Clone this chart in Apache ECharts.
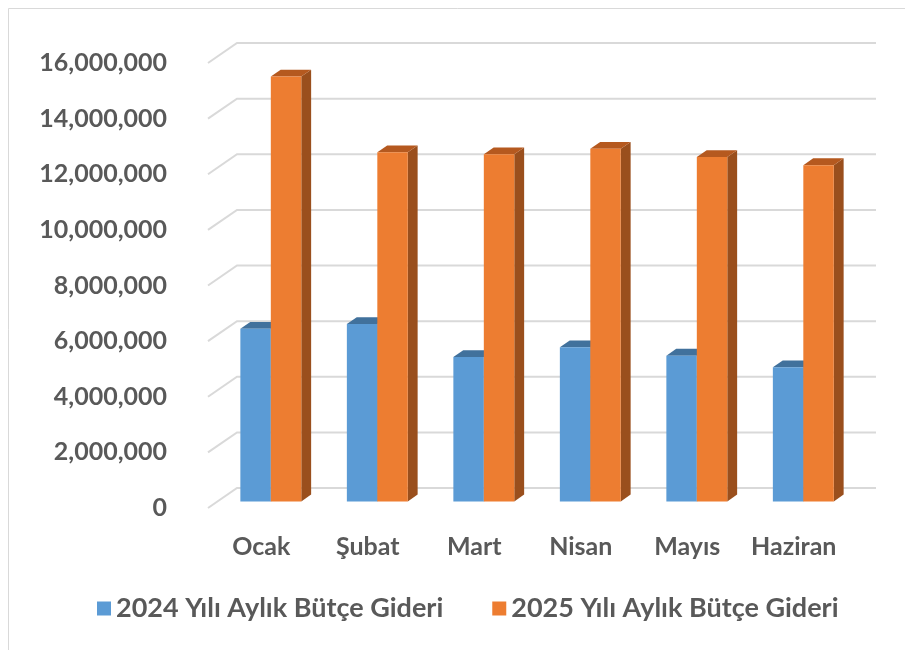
<!DOCTYPE html>
<html><head><meta charset="utf-8">
<script src="https://cdn.jsdelivr.net/npm/echarts@6/dist/echarts.min.js"></script>
<style>html,body{margin:0;padding:0;background:#fff}#c{width:905px;height:650px}</style>
</head><body><div id="c"></div>
<script>
const categories = ['Ocak', 'Şubat', 'Mart', 'Nisan', 'Mayıs', 'Haziran'];
const seriesNames = ['2024 Yılı Aylık Bütçe Gideri', '2025 Yılı Aylık Bütçe Gideri'];
const values2024 = [6210000, 6380000, 5190000, 5540000, 5240000, 4820000];
const values2025 = [15280000, 12550000, 12480000, 12680000, 12380000, 12090000];
const yTicks = [0, 2000000, 4000000, 6000000, 8000000, 10000000, 12000000, 14000000, 16000000];

const DEPTH_X = 29, DEPTH_Y = -20;
const BAR_F0 = 0.33, BAR_F1 = 0.67;
const BAR_FRAC = 0.286;
const FONT = 'Lato, "Liberation Sans", sans-serif';
const TXT = '#595959';

const blueColors = { front: '#5B9BD5', top: '#41719C', side: '#3F6E9A' };
const orangeColors = { front: '#ED7D31', top: '#B5591F', side: '#9A4F1D' };

function barRender(idx, colors) {
  return function (params, api) {
    const i = api.value(0), v = api.value(1);
    const base = api.coord([i, 0]);
    const top = api.coord([i, v]);
    const band = api.size([1, 0])[0];
    const w = band * BAR_FRAC;
    const fx = DEPTH_X * BAR_F0, fy = DEPTH_Y * BAR_F0;
    const dx = DEPTH_X * (BAR_F1 - BAR_F0), dy = DEPTH_Y * (BAR_F1 - BAR_F0);
    const x0 = base[0] - w + idx * w + fx;
    const x1 = x0 + w;
    const yb = base[1] + fy, yt = top[1] + fy;
    return {
      type: 'group', children: [
        { type: 'polygon', shape: { points: [[x1, yt], [x1 + dx, yt + dy], [x1 + dx, yb + dy], [x1, yb]] }, style: { fill: colors.side } },
        { type: 'polygon', shape: { points: [[x0, yt], [x0 + dx, yt + dy], [x1 + dx, yt + dy], [x1, yt]] }, style: { fill: colors.top } },
        { type: 'rect', shape: { x: x0, y: yt, width: w, height: yb - yt }, style: { fill: colors.front } }
      ]
    };
  };
}

function gridRender(params, api) {
  const v = api.value(1);
  const p = api.coord([0, v]);
  const cs = params.coordSys;
  const x = cs.x, y = p[1];
  return {
    type: 'polyline',
    shape: { points: [[x, y], [x + DEPTH_X, y + DEPTH_Y], [x + cs.width + DEPTH_X, y + DEPTH_Y]] },
    style: { stroke: '#D9D9D9', lineWidth: 2, fill: null }
  };
}

const chart = echarts.init(document.getElementById('c'), null, { renderer: 'canvas' });
chart.setOption({
  animation: false,
  backgroundColor: '#fff',
  graphic: [{
    type: 'rect', shape: { x: 8.5, y: 8.5, width: 1000, height: 1000 },
    style: { fill: null, stroke: '#D9D9D9', lineWidth: 1 }, z: -10
  }],
  grid: { left: 208, top: 63, width: 639, height: 445 },
  xAxis: {
    type: 'category', data: categories,
    axisLine: { show: false }, axisTick: { show: false },
    axisLabel: { interval: 0, margin: 26, fontFamily: FONT, fontWeight: 'bold', fontSize: 25, color: TXT },
    splitLine: { show: false }
  },
  yAxis: {
    type: 'value', min: 0, max: 16000000, interval: 2000000,
    axisLine: { show: false }, axisTick: { show: false }, splitLine: { show: false },
    axisLabel: {
      margin: 41, fontFamily: FONT, fontWeight: 'bold', fontSize: 25, color: TXT,
      formatter: v => v.toLocaleString('en-US')
    }
  },
  legend: {
    data: seriesNames, left: 97, top: 595, itemWidth: 14, itemHeight: 14, itemGap: 49, padding: 0,
    icon: 'rect',
    textStyle: { fontFamily: FONT, fontWeight: 'bold', fontSize: 27, color: TXT }
  },
  series: [
    { type: 'custom', name: 'grid', renderItem: gridRender, data: yTicks.map(v => [0, v]), z: 1, silent: true },
    { type: 'custom', name: seriesNames[0], renderItem: barRender(0, blueColors), itemStyle: { color: blueColors.front },
      data: categories.map((c, i) => [i, values2024[i]]), z: 2 },
    { type: 'custom', name: seriesNames[1], renderItem: barRender(1, orangeColors), itemStyle: { color: orangeColors.front },
      data: categories.map((c, i) => [i, values2025[i]]), z: 3 }
  ]
});
</script></body></html>
